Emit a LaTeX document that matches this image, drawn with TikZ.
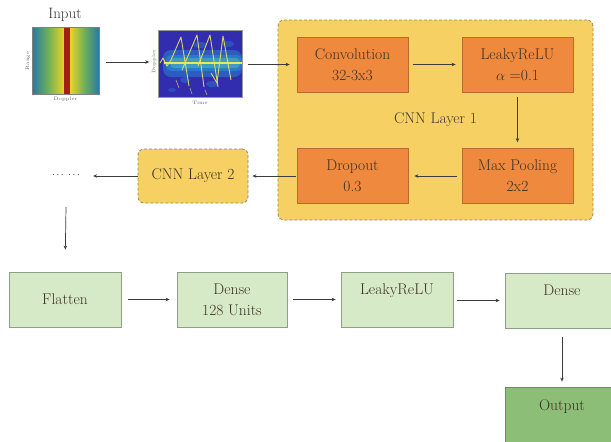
\documentclass[tikz,border=0pt]{standalone}
\usetikzlibrary{arrows.meta}
\definecolor{orF}{RGB}{239,137,62}
\definecolor{orD}{RGB}{190,105,45}
\definecolor{yeF}{RGB}{246,208,98}
\definecolor{yeD}{RGB}{150,135,95}
\definecolor{grL}{RGB}{214,234,199}
\definecolor{grLD}{RGB}{140,160,135}
\definecolor{grO}{RGB}{140,190,120}
\definecolor{grOD}{RGB}{105,145,90}
\definecolor{txt}{RGB}{60,50,35}
\definecolor{arr}{RGB}{60,60,60}
\definecolor{spB}{RGB}{50,45,175}
\definecolor{spC}{RGB}{40,150,215}
\definecolor{spG}{RGB}{90,200,180}
\definecolor{spY}{RGB}{235,230,90}
\definecolor{teal1}{RGB}{40,120,165}
\definecolor{grn1}{RGB}{110,175,90}
\definecolor{yel1}{RGB}{235,210,40}
\definecolor{red1}{RGB}{165,30,20}
\tikzset{
  lbl/.style={font=\fontsize{15.5}{21}\selectfont, text=txt, align=center},
  orbox/.style={lbl, draw=orD, fill=orF, line width=0.8pt, minimum width=111pt, minimum height=55pt, inner sep=0pt},
  grbox/.style={lbl, draw=grLD, fill=grL, line width=0.8pt, minimum width=112pt, minimum height=55pt, inner sep=0pt},
  gobox/.style={lbl, draw=grOD, fill=grO, line width=0.8pt, minimum width=114pt, minimum height=57pt, inner sep=0pt},
  dashbox/.style={draw=yeD, fill=yeF, dashed, dash pattern=on 3pt off 2pt, line width=0.8pt, rounded corners=6pt, inner sep=0pt},
  conn/.style={draw=arr, line width=0.7pt, -{Stealth[length=4pt,width=3.5pt]}},
  tiny/.style={font=\fontsize{5}{6}\selectfont, text=black!60, inner sep=0pt},
  saw/.style={draw=spY, line width=0.9pt, line join=round, opacity=0.9},
}
\begin{document}
\begin{tikzpicture}[x=1pt,y=-1pt]
\useasboundingbox (0,0) rectangle (611,442);
\begin{scope}
\clip (0,0) rectangle (611,442);

% Input image
\node[lbl, font=\fontsize{15}{17}\selectfont, text=black!80] (intitle) at (65,15) {Input};
\node[minimum width=67pt, minimum height=67pt, inner sep=0pt] (img1) at (65.5,61) {};
\shade[left color=teal1, right color=yel1, middle color=grn1, shading angle=90] (32,27.5) rectangle (64,94.5);
\shade[left color=yel1, right color=teal1, middle color=grn1, shading angle=90] (70,27.5) rectangle (99,94.5);
\fill[red1] (64,27.5) rectangle (70,94.5);
\draw[black!50, line width=0.4pt] (32,27.5) rectangle (99,94.5);
\node[tiny, rotate=90] (rangelbl) at (28,61) {Range};
\node[tiny] (dop1) at (65.5,99.5) {Doppler};

% Spectrogram image
\node[minimum width=85pt, minimum height=67pt, inner sep=0pt] (img2) at (200,64) {};
\fill[spB] (158,30.5) rectangle (242,97.5);
\begin{scope}
\clip (158,30.5) rectangle (242,97.5);
\fill[spC, opacity=0.45, rounded corners=8pt] (163,50) rectangle (242,77);
\fill[spC, opacity=0.5, rounded corners=5pt] (166,55) rectangle (242,71);
\fill[spG, opacity=0.45, rounded corners=4pt] (170,58) rectangle (240,68);
\fill[spC, opacity=0.35] (185,80) ellipse (5pt and 3pt);
\fill[spC, opacity=0.35] (212,84) ellipse (6pt and 3pt);
\fill[spC, opacity=0.35] (200,45) ellipse (7pt and 3pt);
\fill[spC, opacity=0.35] (228,44) ellipse (6pt and 3pt);
\fill[spC, opacity=0.3] (172,90) ellipse (4pt and 2pt);
\draw[spY, line width=1.3pt] (164,63) -- (242,63);
\draw[saw] (160,63) -- (163,58) -- (167,66) -- (171,60) -- (181,37) -- (189,86);
\draw[saw] (182,70) -- (197,35) -- (204,87);
\draw[saw] (198,66) -- (210,35) -- (218,87);
\draw[saw] (211,73) -- (217,83) -- (223,36) -- (231,80);
\draw[spY, line width=0.6pt, opacity=0.7] (176,80) -- (179,88) (205,90) -- (207,95) (190,88) -- (192,94);
\end{scope}
\draw[black!40, line width=0.4pt] (158,30.5) rectangle (242,97.5);
\node[tiny, rotate=90] (dop2) at (154,62) {Doppler};
\node[tiny] (timelbl) at (200,102.5) {Time};

% CNN layer 1 container
\node[dashbox, minimum width=315pt, minimum height=200pt] (cnn1) at (435.5,120) {};
\node[lbl, text=black!70!yellow!40!black] (cnn1lbl) at (435.5,120) {CNN Layer 1};

\node[orbox] (conv) at (352.5,64.5) {Convolution\\32-3x3};
\node[orbox] (leaky1) at (517.5,64.5) {LeakyReLU\\$\alpha$ =0.1};
\node[orbox] (maxp) at (517.5,176) {Max Pooling\\2x2};
\node[orbox] (drop) at (352.5,176) {Dropout\\0.3};

% CNN layer 2
\node[dashbox, lbl, minimum width=110pt, minimum height=54pt] (cnn2) at (193,176) {CNN Layer 2};
\node[font=\fontsize{10}{12}\selectfont, text=txt, inner sep=0pt] (dots) at (66,175) {$\cdots\;\cdots$};

% Bottom row
\node[grbox] (flat) at (65,299.5) {Flatten};
\node[grbox, minimum width=110pt] (dense1) at (232,299.5) {Dense\\128 Units};
\node[grbox] (leaky2) at (397,299.5) {LeakyReLU\\\mbox{}};
\node[grbox, minimum width=114pt] (dense2) at (562,300.5) {Dense\\\mbox{}};
\node[gobox] (out) at (562,415.5) {Output\\\mbox{}};

% Connectors
\draw[conn, shorten <=7pt, shorten >=8pt] (img1.east |- 0,62) -- (img2.west |- 0,62);
\draw[conn, shorten <=5pt, shorten >=7pt] (img2.east |- conv) -- (conv);
\draw[conn, shorten <=5pt, shorten >=6pt] (conv) -- (leaky1);
\draw[conn, shorten <=5pt, shorten >=6pt] (leaky1) -- (maxp);
\draw[conn, shorten <=5pt, shorten >=6pt] (maxp) -- (drop);
\draw[conn, shorten <=1pt, shorten >=4pt] (drop) -- (cnn2);
\draw[conn, shorten >=13pt] (cnn2.west) -- (dots.east |- cnn2.west);
\coordinate (dotsb) at (66,207);
\draw[conn, shorten >=22pt] (dotsb) -- (flat.north);
\draw[conn, shorten <=7pt, shorten >=7pt] (flat) -- (dense1);
\draw[conn, shorten <=6pt, shorten >=5pt] (dense1.east |- leaky2) -- (leaky2.west);
\draw[conn, shorten <=4pt, shorten >=5pt] (leaky2.east |- dense2) -- (dense2.west);
\draw[conn, shorten <=9pt, shorten >=5pt] (dense2.south) -- (out.north);
\end{scope}
\end{tikzpicture}
\end{document}
